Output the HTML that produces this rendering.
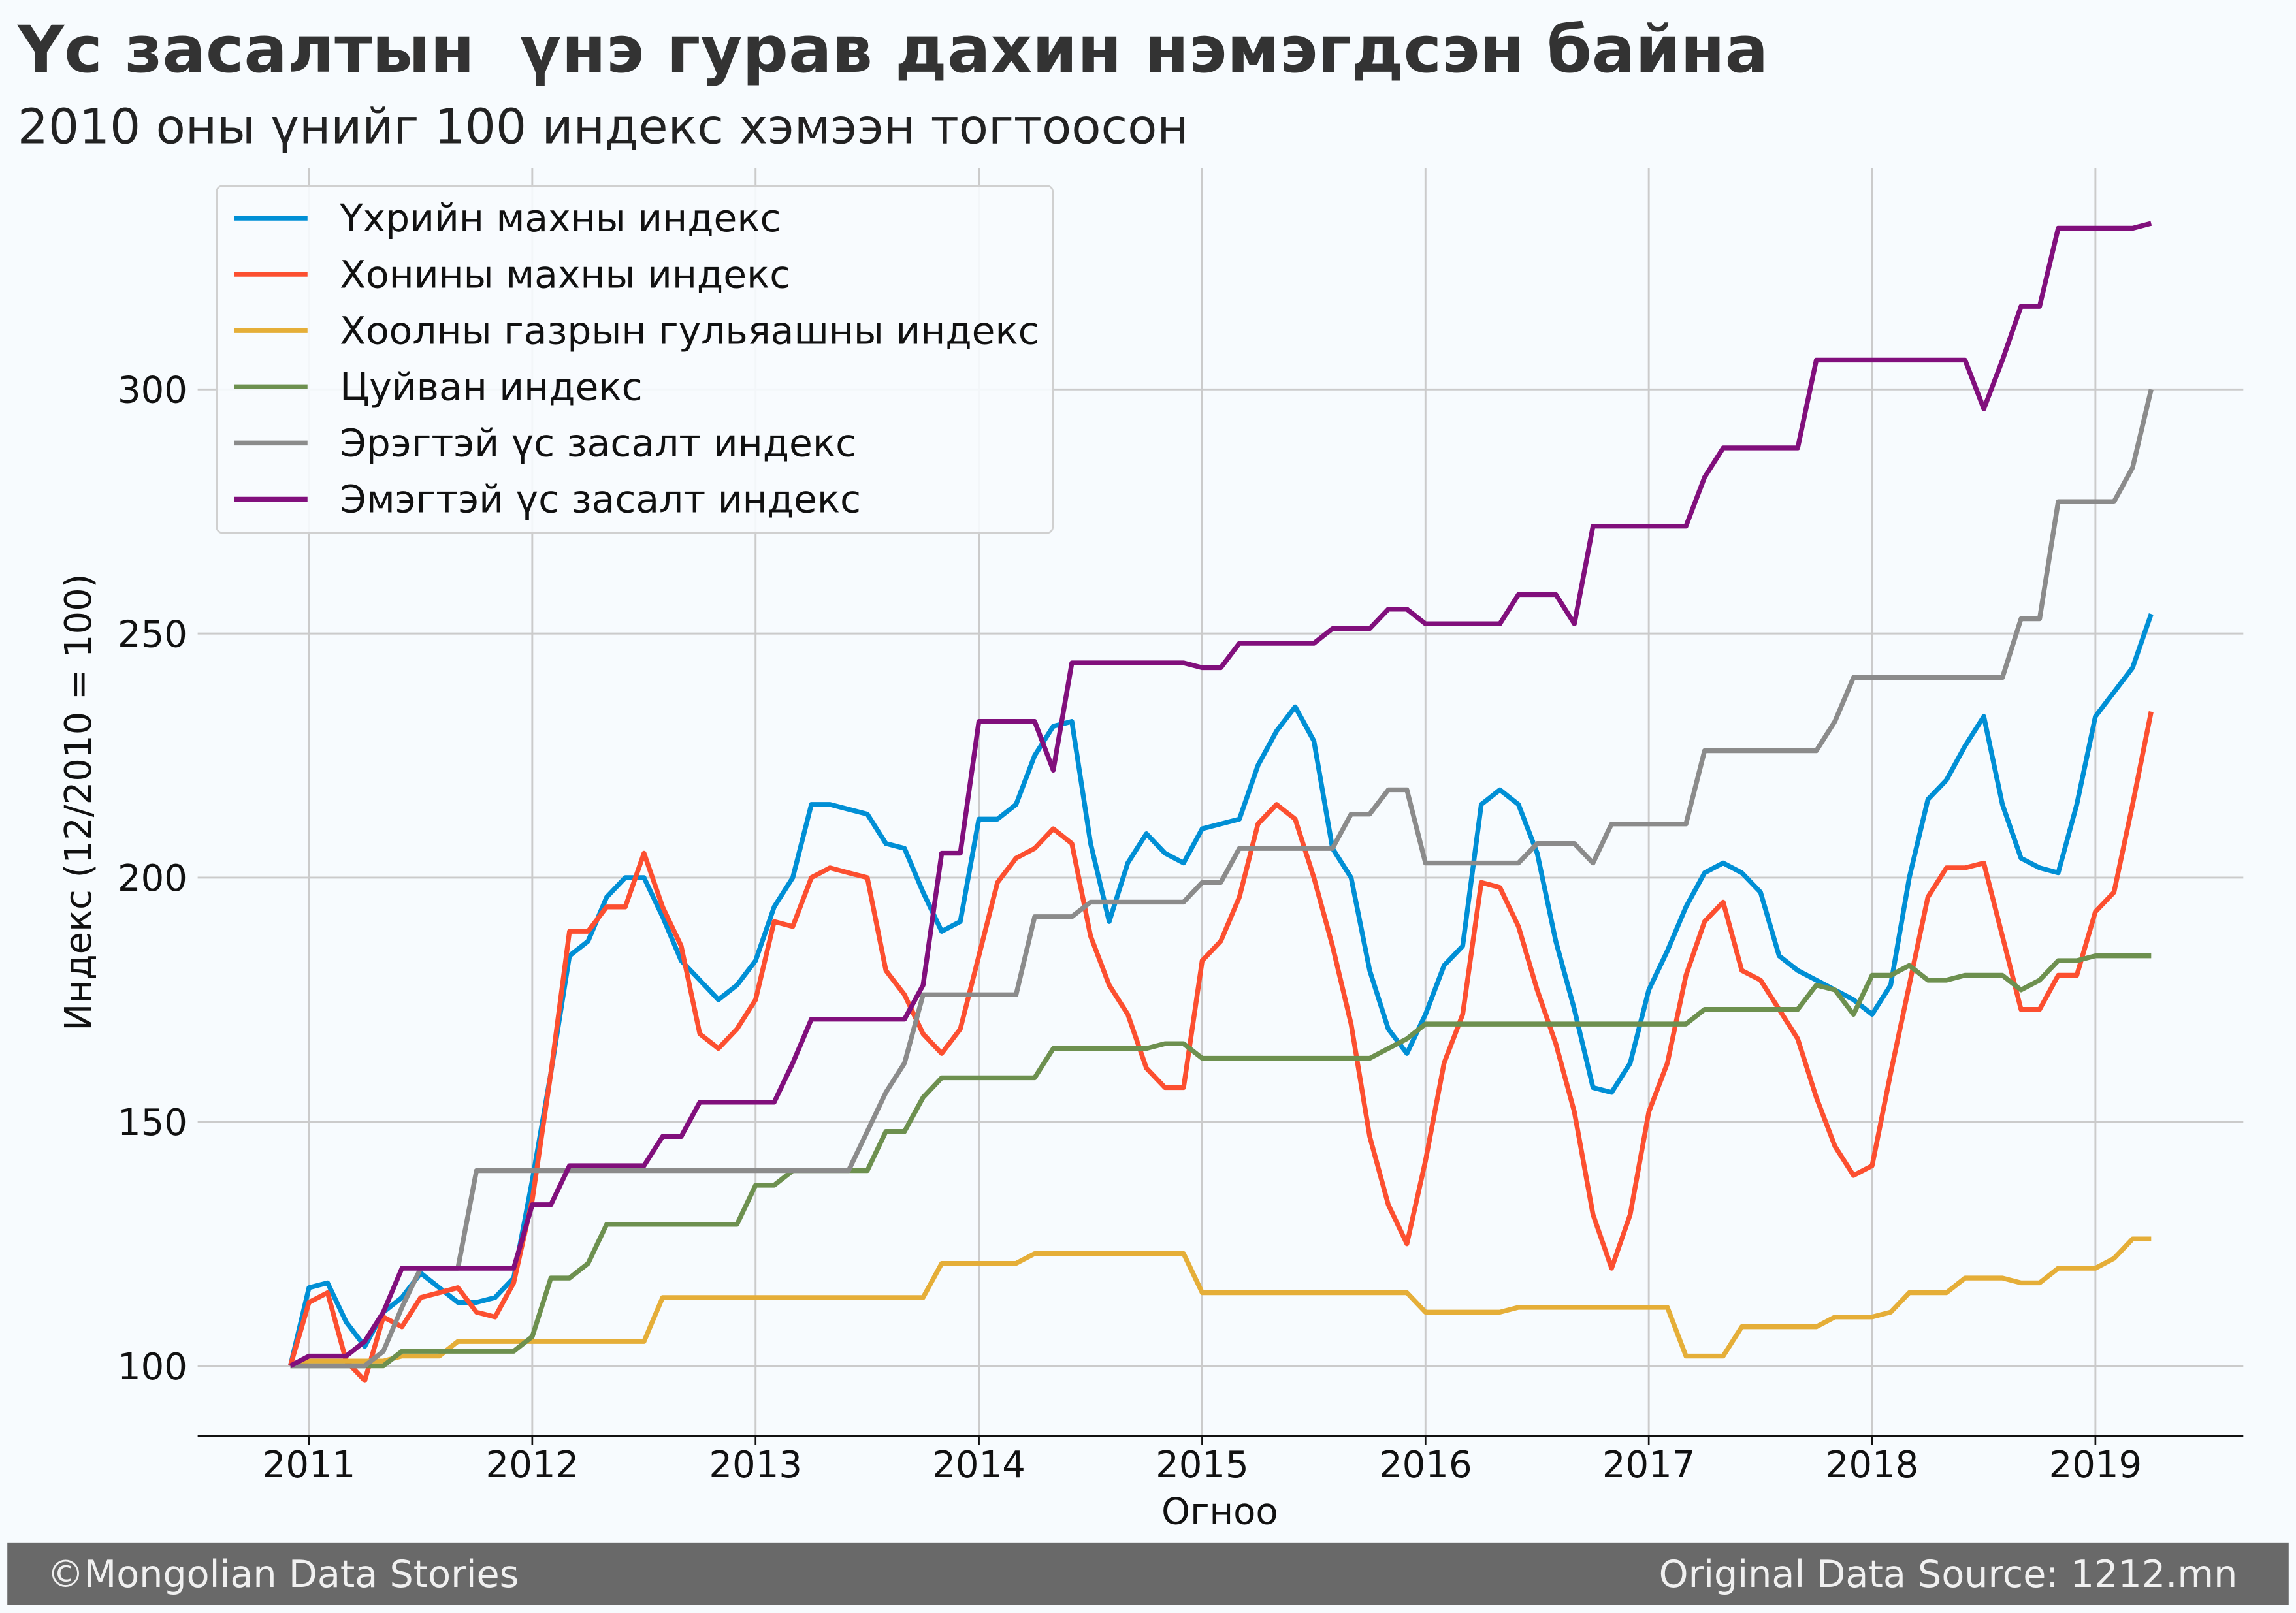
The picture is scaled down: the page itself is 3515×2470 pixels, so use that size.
<!DOCTYPE html>
<html><head><meta charset="utf-8">
<style>
html,body{margin:0;padding:0;background:#f7fbfe;}
svg{display:block;font-family:"DejaVu Sans","Liberation Sans",sans-serif;}
</style></head>
<body>
<svg id="chart" width="3515" height="2470" viewBox="0 0 1568 1101.8" preserveAspectRatio="none" xmlns="http://www.w3.org/2000/svg">
<rect x="0" y="0" width="1568" height="1102" fill="#f7fbfe"/>
<text x="12" y="49" font-size="44" font-weight="bold" fill="#333" xml:space="preserve" style="white-space:pre">Үс засалтын  үнэ гурав дахин нэмэгдсэн байна</text>
<text x="12" y="98" font-size="33" fill="#222">2010 оны үнийг 100 индекс хэмээн тогтоосон</text>
<g id="grid"></g>
<g id="axes"></g>
<g id="series"></g>
<g id="legend"></g>
<text x="62" y="548" font-size="25" fill="#111" text-anchor="middle" transform="rotate(-90 62 548)">Индекс (12/2010 = 100)</text>
<text x="833" y="1041" font-size="25" fill="#111" text-anchor="middle">Огноо</text>
<rect x="5" y="1054" width="1558" height="42" fill="#696969"/>
<text x="32" y="1084" font-size="25.5" fill="#f0f0f0">©Mongolian Data Stories</text>
<text x="1528" y="1084" font-size="25.5" fill="#f0f0f0" text-anchor="end">Original Data Source: 1212.mn</text>
</svg>
<script>
const yearTicks = [2011,2012,2013,2014,2015,2016,2017,2018,2019];
const yTicks = [100,150,200,250,300];
const seriesNames = ["Үхрийн махны индекс","Хонины махны индекс","Хоолны газрын гульяашны индекс","Цуйван индекс","Эрэгтэй үс засалт индекс","Эмэгтэй үс засалт индекс"];
const seriesColors = ["#008fd5","#fc4f30","#e5ae38","#6d904f","#8b8b8b","#810f7c"];
const beef = [100,
116,117,109,104,111,114,119,116,113,113,114,118,
138,160,184,187,196,200,200,192,183,179,175,178,
183,194,200,215,215,214,213,207,206,197,189,191,
212,212,215,225,231,232,207,191,203,209,205,203,
210,211,212,223,230,235,228,206,200,181,169,164,
172,182,186,215,218,215,205,187,173,157,156,162,
177,185,194,201,203,201,197,184,181,179,177,175,
172,178,200,216,220,227,233,215,204,202,201,215,
233,238,243,254];
const lamb = [100,
113,115,101,97,110,108,114,115,116,111,110,117,
134,160,189,189,194,194,205,194,186,168,165,169,
175,191,190,200,202,201,200,181,176,168,164,169,
184,199,204,206,210,207,188,178,172,161,157,157,
183,187,196,211,215,212,200,186,170,147,133,125,
142,162,172,199,198,190,177,166,152,131,120,131,
152,162,180,191,195,181,179,173,167,155,145,139,
141,160,178,196,202,202,203,188,173,173,180,180,
193,197,215,234];
const goulash = [100,
101,101,101,101,101,102,102,102,105,105,105,105,
105,105,105,105,105,105,105,114,114,114,114,114,
114,114,114,114,114,114,114,114,114,114,121,121,
121,121,121,123,123,123,123,123,123,123,123,123,
115,115,115,115,115,115,115,115,115,115,115,115,
111,111,111,111,111,112,112,112,112,112,112,112,
112,112,102,102,102,108,108,108,108,108,110,110,
110,111,115,115,115,118,118,118,117,117,120,120,
120,122,126,126];
const tsuivan = [100,
100,100,100,100,100,103,103,103,103,103,103,103,
106,118,118,121,129,129,129,129,129,129,129,129,
137,137,140,140,140,140,140,148,148,155,159,159,
159,159,159,159,165,165,165,165,165,165,166,166,
163,163,163,163,163,163,163,163,163,163,165,167,
170,170,170,170,170,170,170,170,170,170,170,170,
170,170,170,173,173,173,173,173,173,178,177,172,
180,180,182,179,179,180,180,180,177,179,183,183,
184,184,184,184];
const menHair = [100,
100,100,100,100,103,112,120,120,120,140,140,140,
140,140,140,140,140,140,140,140,140,140,140,140,
140,140,140,140,140,140,148,156,162,176,176,176,
176,176,176,192,192,192,195,195,195,195,195,195,
199,199,206,206,206,206,206,206,213,213,218,218,
203,203,203,203,203,203,207,207,207,203,211,211,
211,211,211,226,226,226,226,226,226,226,232,241,
241,241,241,241,241,241,241,241,253,253,277,277,
277,277,284,300];
const womenHair = [100,
102,102,102,105,111,120,120,120,120,120,120,120,
133,133,141,141,141,141,141,147,147,154,154,154,
154,154,162,171,171,171,171,171,171,178,205,205,
232,232,232,232,222,244,244,244,244,244,244,244,
243,243,248,248,248,248,248,251,251,251,255,255,
252,252,252,252,252,258,258,258,252,272,272,272,
272,272,272,282,288,288,288,288,288,306,306,306,
306,306,306,306,306,306,296,306,317,317,333,333,
333,333,333,334];
const allSeries = [beef,lamb,goulash,tsuivan,menHair,womenHair];

const NS="http://www.w3.org/2000/svg";
const PL=135, PR=1532, PT=115, PB=981;
function xMonth(i){ return 211 + (i-1)*152.5/12; }
function xYear(y){ return 211 + (y-2011)*152.5; }
function yVal(v){ return 933 - (v-100)*(667/200); }
function mk(tag, attrs, parent){ const e=document.createElementNS(NS,tag); for(const k in attrs) e.setAttribute(k,attrs[k]); parent.appendChild(e); return e; }

const grid=document.getElementById('grid');
const axes=document.getElementById('axes');
yTicks.forEach(v=>{
  const l=mk('line',{x1:PL,x2:PR,y1:yVal(v),y2:yVal(v),stroke:'#cbcbcb','stroke-width':1.3},grid);
  
  
  const t=mk('text',{x:128,y:yVal(v)+9,'font-size':25,'text-anchor':'end',fill:'#111'},axes);
  t.textContent=v;
  
  
});
yearTicks.forEach(y=>{
  const l=mk('line',{x1:xYear(y),x2:xYear(y),y1:PT,y2:PB,stroke:'#cbcbcb','stroke-width':1.3},grid);
  
  
  const tk=mk('line',{x1:xYear(y),x2:xYear(y),y1:PB,y2:PB+6,stroke:'#111','stroke-width':1.2},axes);
  
  
  const t=mk('text',{x:xYear(y),y:1009,'font-size':25,'text-anchor':'middle',fill:'#111'},axes);
  t.textContent=y;
  
  
});
const sp=mk('line',{x1:PL,x2:PR,y1:PB,y2:PB,stroke:'#111','stroke-width':1.5},axes);



const sg=document.getElementById('series');
allSeries.forEach((arr,si)=>{
  const pts=arr.map((v,i)=>xMonth(i).toFixed(1)+','+yVal(v).toFixed(1)).join(' ');
  const p=mk('polyline',{points:pts,fill:'none',stroke:seriesColors[si],'stroke-width':3.3,'stroke-linejoin':'round'},sg);
  
  
});

const lg=document.getElementById('legend');
const box=mk('rect',{x:148,y:127,width:571,height:237,rx:4,fill:'#f7fbfe',stroke:'#d0d0d0','stroke-width':1.2,'fill-opacity':0.9},lg);


seriesNames.forEach((n,i)=>{
  const y=149+i*38.4;
  const l=mk('line',{x1:160,x2:210,y1:y,y2:y,stroke:seriesColors[i],'stroke-width':3.3},lg);
  
  
  const t=mk('text',{x:232,y:y+9,'font-size':26,fill:'#111'},lg);
  t.textContent=n;
  
  
});
</script>
</body></html>
